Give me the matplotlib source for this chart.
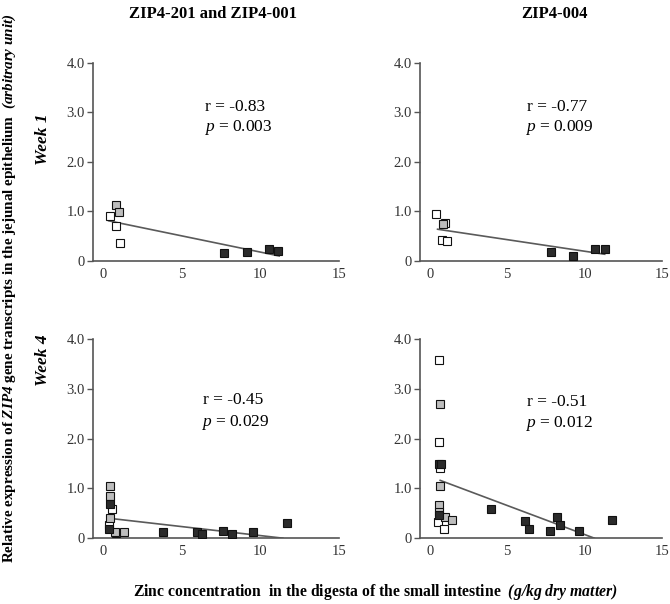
import numpy as np
import matplotlib
matplotlib.use("Agg")
import matplotlib.pyplot as plt

# ----------
#  CONFIG
# ----------
plt.rcParams["font.family"] = ["Liberation Serif", "DejaVu Serif"]
plt.rcParams["mathtext.fontset"] = "custom"
plt.rcParams["mathtext.rm"] = "Liberation Serif"
plt.rcParams["mathtext.it"] = "Liberation Serif:italic"
plt.rcParams["mathtext.bf"] = "Liberation Serif:italic:bold"

color_white = "white"
color_grey = "#bdbdbd"
color_black = "#2b2b2b"
color_axis = "#555555"

# ----------
#  DATA
# ----------
col_titles = ["ZIP4-201 and ZIP4-001", "ZIP4-004"]
row_titles = ["Week 1", "Week 4"]
x_ticks = [0, 5, 10, 15]
y_ticks = [0, 1, 2, 3, 4]
y_ticklabels = ["0", "1.0", "2.0", "3.0", "4.0"]

# week 1, ZIP4-201 and ZIP4-001
w1a_white_x = [0.42, 0.85, 1.1]
w1a_white_y = [0.91, 0.70, 0.37]
w1a_grey_x = [0.85, 1.0]
w1a_grey_y = [1.12, 0.99]
w1a_black_x = [7.7, 9.15, 10.55, 11.1]
w1a_black_y = [0.15, 0.19, 0.24, 0.21]
w1a_fit_x = [0.36, 11.2]
w1a_fit_y = [0.81, 0.10]
w1a_stats = ("-0.83", "0.003")

# week 1, ZIP4-004
w1b_white_x = [0.39, 1.0, 0.78, 1.1]
w1b_white_y = [0.94, 0.77, 0.42, 0.40]
w1b_grey_x = [0.82]
w1b_grey_y = [0.75]
w1b_black_x = [7.8, 9.28, 10.7, 11.3]
w1b_black_y = [0.18, 0.09, 0.24, 0.24]
w1b_fit_x = [0.5, 11.3]
w1b_fit_y = [0.64, 0.135]
w1b_stats = ("-0.77", "0.009")

# week 4, ZIP4-201 and ZIP4-001
w4a_white_x = [0.6, 0.4, 0.85]
w4a_white_y = [0.58, 0.27, 0.10]
w4a_grey_x = [0.46, 0.46, 0.42, 0.78, 1.31]
w4a_grey_y = [1.04, 0.84, 0.40, 0.12, 0.12]
w4a_black_x = [0.42, 0.4, 3.84, 6.0, 6.3, 7.64, 8.2, 9.54, 11.7]
w4a_black_y = [0.68, 0.18, 0.13, 0.13, 0.09, 0.15, 0.09, 0.12, 0.31]
w4a_fit_x = [0.36, 11.43]
w4a_fit_y = [0.40, 0.0]
w4a_stats = ("-0.45", "0.029")

# week 4, ZIP4-004
w4b_white_x = [0.61, 0.61, 0.65, 0.55, 0.9]
w4b_white_y = [3.57, 1.93, 1.40, 0.33, 0.19]
w4b_grey_x = [0.65, 0.65, 0.6, 0.57, 0.99, 1.45]
w4b_grey_y = [2.70, 1.04, 0.67, 0.52, 0.42, 0.37]
w4b_black_x = [0.6, 0.72, 0.6, 3.98, 6.12, 6.39, 7.76, 8.2, 8.39, 9.64, 11.8]
w4b_black_y = [1.48, 1.48, 0.47, 0.58, 0.35, 0.19, 0.15, 0.43, 0.27, 0.15, 0.37]
w4b_fit_x = [0.67, 10.63]
w4b_fit_y = [1.16, 0.0]
w4b_stats = ("-0.51", "0.012")

panels = [
    (w1a_white_x, w1a_white_y, w1a_grey_x, w1a_grey_y, w1a_black_x, w1a_black_y,
     w1a_fit_x, w1a_fit_y, w1a_stats),
    (w1b_white_x, w1b_white_y, w1b_grey_x, w1b_grey_y, w1b_black_x, w1b_black_y,
     w1b_fit_x, w1b_fit_y, w1b_stats),
    (w4a_white_x, w4a_white_y, w4a_grey_x, w4a_grey_y, w4a_black_x, w4a_black_y,
     w4a_fit_x, w4a_fit_y, w4a_stats),
    (w4b_white_x, w4b_white_y, w4b_grey_x, w4b_grey_y, w4b_black_x, w4b_black_y,
     w4b_fit_x, w4b_fit_y, w4b_stats),
]

# axes rectangles (fig fraction) and stats text anchors
rects = [
    [0.139, 0.568, 0.367, 0.328],
    [0.627, 0.568, 0.361, 0.328],
    [0.139, 0.109, 0.367, 0.330],
    [0.627, 0.109, 0.361, 0.330],
]
text_pos = [(6.5, 3.11, 2.69), (6.25, 3.11, 2.69), (6.35, 2.77, 2.33), (6.25, 2.73, 2.31)]

fig = plt.figure(figsize=(6.7, 6.04), dpi=100)

for i, (wx, wy, gx, gy, bx, by, fx, fy, stats) in enumerate(panels):
    ax = fig.add_axes(rects[i])
    ax.plot(fx, fy, color="#5a5a5a", lw=1.2, zorder=2)
    for xs, ys, c in ((wx, wy, color_white), (gx, gy, color_grey), (bx, by, color_black)):
        ax.plot(xs, ys, ls="none", marker="s", ms=5.8, mfc=c, mec="#111111",
                mew=0.8, zorder=3)
    ax.set_xlim(-0.63, 15)
    ax.set_ylim(0, 4)
    ax.set_xticks(x_ticks)
    ax.set_yticks(y_ticks)
    ax.set_yticklabels(y_ticklabels)
    ax.spines["top"].set_visible(False)
    ax.spines["right"].set_visible(False)
    for s in ("left", "bottom"):
        ax.spines[s].set_color(color_axis)
        ax.spines[s].set_linewidth(1.2)
    ax.tick_params(axis="y", length=4, width=1.0, color=color_axis, pad=2,
                   labelsize=10.5, labelcolor="#333333")
    ax.tick_params(axis="x", length=0, pad=5, labelsize=10.5, labelcolor="#333333")
    tx, ry, py = text_pos[i]
    ax.text(tx, ry, "r = " + stats[0], fontsize=12.5, va="center", ha="left")
    ax.text(tx - 0.1, py, "$p$ = " + stats[1], fontsize=12.5, va="center", ha="left")

# column and row titles
fig.text(0.318, 0.977, col_titles[0], ha="center", va="center",
         fontsize=12, fontweight="bold")
fig.text(0.828, 0.977, col_titles[1], ha="center", va="center",
         fontsize=12, fontweight="bold")
fig.text(0.064, 0.77, row_titles[0], ha="center", va="center", rotation=90,
         fontsize=12.5, fontweight="bold", fontstyle="italic")
fig.text(0.064, 0.404, row_titles[1], ha="center", va="center", rotation=90,
         fontsize=12.5, fontweight="bold", fontstyle="italic")

fig.text(0.56, 0.02,
         r"Zinc concentration  in the digesta of the small intestine  $\mathbf{(g/kg\ dry\ matter)}$",
         ha="center", va="center", fontsize=11.3, fontweight="bold")
fig.text(0.0134, 0.523,
         r"Relative expression of $\mathbf{ZIP4}$ gene transcripts in the jejunal epithelium  $\mathbf{(arbitrary\ unit)}$",
         ha="center", va="center", rotation=90, fontsize=10.9, fontweight="bold")

fig.savefig("out.png", dpi=100)
plt.close(fig)
